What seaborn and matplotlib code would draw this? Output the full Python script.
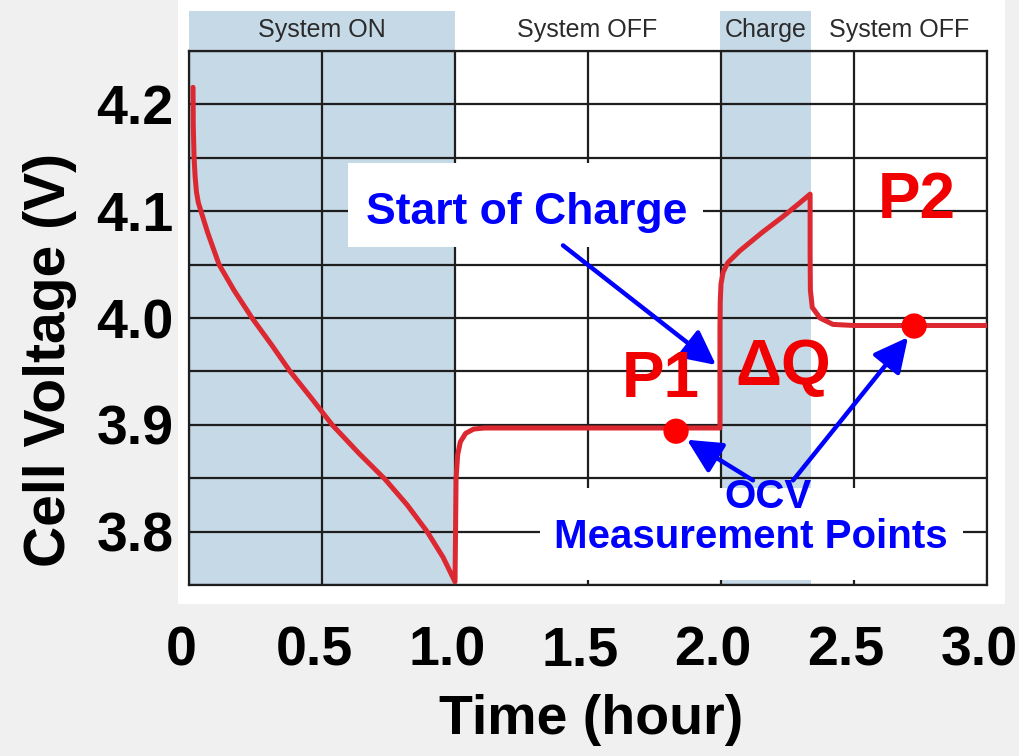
import matplotlib
matplotlib.use("Agg")

import matplotlib.pyplot as plt
import matplotlib.patches as mpatches
import matplotlib.transforms as mtransforms
import pandas as pd
import seaborn as sns


# ---------------------------------------------------------------------------
# Data
# ---------------------------------------------------------------------------

# cell voltage profile: discharge, rest, charge, rest
TIME_H = [
    0.015, 0.016, 0.019, 0.023, 0.028, 0.035, 0.045, 0.070, 0.113, 0.169, 0.237,
    0.310, 0.380, 0.460, 0.538, 0.640, 0.737, 0.820, 0.895, 0.955, 1.000,
    1.000, 1.002, 1.004, 1.010, 1.020, 1.040, 1.070, 1.110, 1.500, 1.996,
    1.996, 1.997, 2.000, 2.008, 2.026, 2.071, 2.154, 2.233, 2.297, 2.335,
    2.335, 2.336, 2.343, 2.372, 2.421, 2.500, 3.000,
]
VOLT = [
    4.216, 4.180, 4.150, 4.132, 4.118, 4.108, 4.100, 4.080, 4.050, 4.026, 4.000,
    3.975, 3.950, 3.925, 3.900, 3.873, 3.849, 3.825, 3.800, 3.776, 3.753,
    3.753, 3.800, 3.850, 3.872, 3.884, 3.892, 3.896, 3.897, 3.897, 3.897,
    3.990, 4.015, 4.032, 4.043, 4.052, 4.063, 4.080, 4.095, 4.108, 4.116,
    4.060, 4.026, 4.010, 4.000, 3.994, 3.993, 3.993,
]

# OCV measurement points
OCV_LABELS = ["P1", "P2"]
OCV_TIME = [1.831, 2.726]
OCV_VOLT = [3.894, 3.9925]

# operating phases along the time axis
PHASES = ["System ON", "System OFF", "Charge", "System OFF"]
PHASE_START = [0.0, 1.0, 1.996, 2.338]
PHASE_END = [1.0, 1.996, 2.338, 3.0]
PHASE_SHADED = [True, False, True, False]

X_TICKS = [0, 0.5, 1.0, 1.5, 2.0, 2.5, 3.0]
X_TICK_LABELS = ["0", "0.5", "1.0", "1.5", "2.0", "2.5", "3.0"]
Y_TICKS = [3.8, 3.9, 4.0, 4.1, 4.2]
Y_TICK_LABELS = ["3.8", "3.9", "4.0", "4.1", "4.2"]
Y_MINOR = [3.75, 3.85, 3.95, 4.05, 4.15, 4.25]


# ---------------------------------------------------------------------------
# Style
# ---------------------------------------------------------------------------

sns.set_theme(style="white")
plt.rcParams["font.family"] = ["Liberation Sans", "DejaVu Sans"]

LINE_RED = "#dc2830"
TEXT_RED = "#f00000"
BLUE = "#0000ff"
SHADE = "#c6d9e7"
GRID = "#1e1e1e"

fig = plt.figure(figsize=(10.19, 7.56), dpi=100, facecolor="#f0f0f0")
# white panel behind the chart
fig.add_artist(mpatches.Rectangle((178 / 1019, 1 - 604 / 756), 827 / 1019, 604 / 756,
                                  transform=fig.transFigure, facecolor="white",
                                  edgecolor="none", zorder=-1))
ax = fig.add_axes([0.1855, 0.2262, 0.7831, 0.7063])
ax.set_facecolor("white")

# phase shading + header labels above the plot
hdr = mtransforms.blended_transform_factory(ax.transData, ax.transAxes)
for name, t0, t1, shaded in zip(PHASES, PHASE_START, PHASE_END, PHASE_SHADED):
    if shaded:
        span = ax.axvspan(t0, t1, ymin=0, ymax=1.075, facecolor=SHADE,
                          edgecolor="none", zorder=0.2)
        span.set_clip_on(False)
    ax.text((t0 + t1) / 2, 1.039, name, transform=hdr, ha="center", va="center",
            fontsize=18, color="#2b2b2b")

# voltage curve
df = pd.DataFrame({"time": TIME_H, "volt": VOLT})
sns.lineplot(data=df, x="time", y="volt", sort=False, estimator=None,
             color=LINE_RED, linewidth=3.6, ax=ax, zorder=3)

# OCV points
pts = pd.DataFrame({"time": OCV_TIME, "volt": OCV_VOLT, "label": OCV_LABELS})
sns.scatterplot(data=pts, x="time", y="volt", color="#ff0000", s=330,
                edgecolor="none", ax=ax, zorder=5)

# axes, grid
ax.set_xlim(0, 3.0)
ax.set_ylim(3.75, 4.25)
ax.set_xticks(X_TICKS)
ax.set_xticklabels(X_TICK_LABELS)
ax.set_yticks(Y_TICKS)
ax.set_yticklabels(Y_TICK_LABELS)
ax.set_yticks(Y_MINOR, minor=True)
ax.set_axisbelow(True)
ax.grid(True, which="both", color=GRID, linewidth=1.6)
ax.tick_params(axis="both", which="both", length=0, labelsize=40, labelcolor="black")
ax.tick_params(axis="y", pad=11)
ax.tick_params(axis="x", pad=29)
shift = mtransforms.ScaledTranslation(-8 / 100, 0, fig.dpi_scale_trans)
for lab in ax.get_xticklabels():
    lab.set_fontweight("bold")
    lab.set_transform(lab.get_transform() + shift)
for lab in ax.get_yticklabels():
    lab.set_fontweight("bold")
for sp in ax.spines.values():
    sp.set_color(GRID)
    sp.set_linewidth(1.6)

ax.set_xlabel("Time (hour)", fontsize=40, fontweight="bold", color="black")
ax.set_ylabel("Cell Voltage (V)", fontsize=41, fontweight="bold", color="black")
ax.xaxis.set_label_coords(0.504, -0.205)
ax.yaxis.set_label_coords(-0.14, 0.421)

# white label boxes
ax.add_patch(mpatches.Rectangle((0.598, 4.0665), 1.334, 0.0785, facecolor="white",
                                edgecolor="none", zorder=4))
ax.add_patch(mpatches.Rectangle((1.320, 3.7547), 1.590, 0.0863, facecolor="white",
                                edgecolor="none", zorder=4))

# annotations
ax.text(1.271, 4.099, "Start of Charge", ha="center", va="center", fontsize=32,
        fontweight="bold", color=BLUE, zorder=7)
ax.text(2.177, 3.8324, "OCV", ha="center", va="center", fontsize=29,
        fontweight="bold", color=BLUE, zorder=7)
ax.text(2.113, 3.795, "Measurement Points", ha="center", va="center", fontsize=29,
        fontweight="bold", color=BLUE, zorder=7)

arrow = dict(arrowstyle="-|>,head_length=0.6,head_width=0.3", color=BLUE, lw=3.2,
             mutation_scale=35, shrinkA=0, shrinkB=0)
ax.annotate("", xy=(1.981, 3.956), xytext=(1.406, 4.068), arrowprops=arrow, zorder=6)
ax.annotate("", xy=(1.872, 3.886), xytext=(2.120, 3.848), arrowprops=arrow, zorder=6)
ax.annotate("", xy=(2.703, 3.982), xytext=(2.271, 3.848), arrowprops=arrow, zorder=6)

ax.text(1.774, 3.942, "P1", ha="center", va="center", fontsize=46,
        fontweight="bold", color=TEXT_RED, zorder=7)
ax.text(2.737, 4.110, "P2", ha="center", va="center", fontsize=46,
        fontweight="bold", color=TEXT_RED, zorder=7)
ax.text(2.233, 3.953, "\u0394Q", ha="center", va="center", fontsize=46,
        fontweight="bold", color=TEXT_RED, zorder=7)

fig.savefig("out.png", dpi=100, facecolor=fig.get_facecolor())
plt.close(fig)
